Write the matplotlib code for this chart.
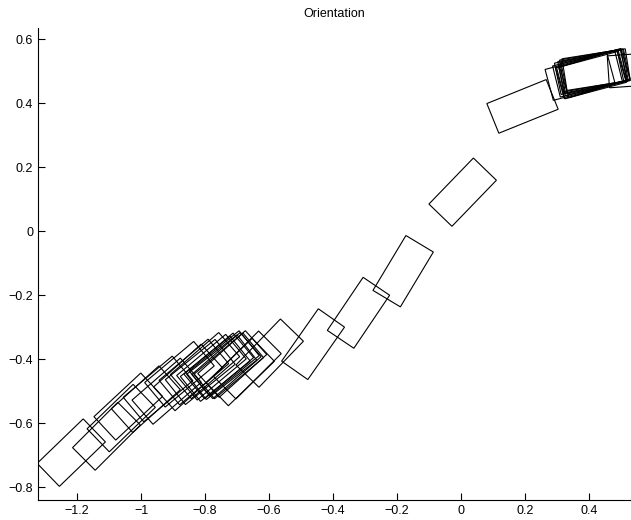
import matplotlib
matplotlib.use('Agg')
import matplotlib.pyplot as plt
from matplotlib.patches import Rectangle

# box centres (x, y) and orientation of long side in degrees
cx = [-1.218, -1.108, -1.062, -1.040, -0.985, -0.947, -0.920, -0.880, -0.853,
      -0.835, -0.815, -0.800, -0.780, -0.768, -0.757, -0.748, -0.740, -0.733,
      -0.726, -0.715, -0.690, -0.668, -0.598, -0.4625, -0.3206, -0.181, 0.005,
      0.192, 0.372, 0.395, 0.400, 0.405, 0.410, 0.412, 0.415, 0.418, 0.420,
      0.422, 0.408, 0.560]
cy = [-0.692, -0.641, -0.584, -0.548, -0.525, -0.493, -0.500, -0.447, -0.457,
      -0.440, -0.440, -0.420, -0.425, -0.430, -0.421, -0.425, -0.413, -0.420,
      -0.421, -0.415, -0.440, -0.418, -0.381, -0.353, -0.255, -0.125, 0.122,
      0.390, 0.483, 0.492, 0.497, 0.490, 0.500, 0.495, 0.503, 0.494, 0.499,
      0.505, 0.488, 0.505]
ang = [44, 45, 44, 43, 42, 40, 41, 40, 42,
       40, 39, 41, 40, 39, 40, 38, 39, 41,
       40, 42, 44, 45, 46, 55, 56, 59, 46,
       22, 15, 14, 12, 16, 11, 13, 10, 17, 12,
       9, 15, 4]
box_len = 0.2
box_wid = 0.1

fig = plt.figure(figsize=(6.31, 5.2), dpi=100)
ax = fig.add_axes([38/631, 20/520, 593/631, 472/520])

for x, y, a in zip(cx, cy, ang):
    r = Rectangle((x - box_len/2, y - box_wid/2), box_len, box_wid, angle=a,
                  rotation_point='center', fill=False, edgecolor='black', linewidth=0.8)
    ax.add_patch(r)

ax.set_xlim(-1.322, 0.531)
ax.set_ylim(-0.84, 0.635)
ax.set_xticks([-1.2, -1, -0.8, -0.6, -0.4, -0.2, 0, 0.2, 0.4])
ax.set_xticklabels(['\u22121.2', '\u22121', '\u22120.8', '\u22120.6', '\u22120.4', '\u22120.2', '0', '0.2', '0.4'])
ax.set_yticks([-0.8, -0.6, -0.4, -0.2, 0, 0.2, 0.4, 0.6])
ax.set_yticklabels(['\u22120.8', '\u22120.6', '\u22120.4', '\u22120.2', '0', '0.2', '0.4', '0.6'])
ax.tick_params(direction='in', length=5, width=0.8, labelsize=9)
for s in ['top', 'right']:
    ax.spines[s].set_visible(False)
for s in ['left', 'bottom']:
    ax.spines[s].set_linewidth(0.8)
for lbl in ax.get_xticklabels() + ax.get_yticklabels():
    lbl.set_family('Liberation Sans')
ax.set_title('Orientation', fontsize=9, family='Liberation Sans', pad=8)

plt.savefig('out.png', dpi=100)
